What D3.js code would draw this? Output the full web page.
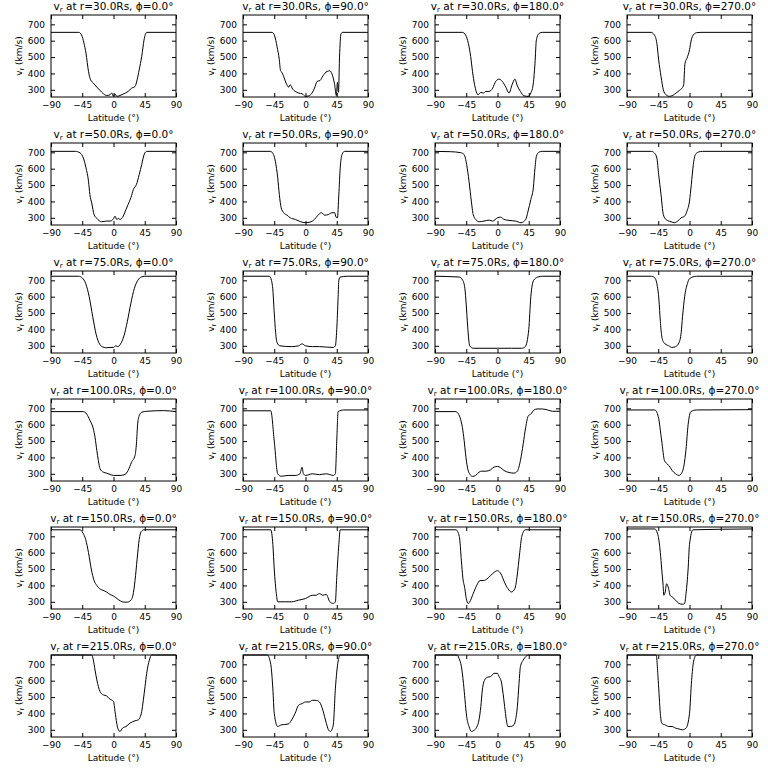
<!DOCTYPE html>
<html><head><meta charset="utf-8">
<script src="https://cdn.jsdelivr.net/npm/d3@7/dist/d3.min.js"></script>
<style>body{margin:0;background:#fff}svg{display:block}text{font-family:"DejaVu Sans",sans-serif;fill:#000}</style>
</head><body>
<script>
const radii = [30, 50, 75, 100, 150, 215];
const phis = [0, 90, 180, 270];
const xTicks = [-90, -45, 0, 45, 90];
const yTicks = [300, 400, 500, 600, 700];
const yDomain = [256, 757];

// r = 30 Rs
const r30_p0 = [[-90,651],[-50,651],[-46,635],[-42.5,584],[-39.6,523],[-36,412],[-33,361],[-29,341],[-24,316],[-19.4,296],[-14.6,276],[-10,265],[-5,270],[-2.6,280],[0,260],[2.2,274],[4.6,260],[9.4,265],[14,274],[21,290],[26,310],[31,320],[34,361],[37,422],[40.6,503],[44,605],[47.8,651],[90,651]];
const r30_p90 = [[-90,651],[-48,651],[-44.4,629],[-41,564],[-37.7,483],[-36,418],[-34,406],[-31.4,381],[-28,341],[-24,316],[-22,331],[-18.5,304],[-14.6,290],[-10,280],[-5,276],[0,260],[4.6,263],[9.4,280],[13,310],[16.6,351],[21,357],[25,385],[31,412],[35,416],[38,398],[42,331],[44.4,265],[46,345],[47.5,285],[49,500],[51,640],[53,651],[90,651]];
const r30_p180 = [[-90,651],[-50.6,651],[-46,635],[-42,584],[-38.6,503],[-36,412],[-33,331],[-28,270],[-24,284],[-20,280],[-17,290],[-12,290],[-7,310],[-2.6,351],[2.2,365],[7,351],[12,316],[16.6,280],[21,331],[25,365],[28.6,324],[33,290],[38,263],[44,260],[48,280],[51.6,341],[54,462],[56,605],[60,645],[64.6,651],[90,651]];
const r30_p270 = [[-90,651],[-55.4,651],[-50.6,635],[-47,584],[-44.4,483],[-41,381],[-37.7,300],[-34,270],[-29,260],[-24,266],[-19.4,280],[-14.6,296],[-10.8,310],[-8.4,331],[-6.5,462],[-3.6,493],[0,544],[2.6,605],[5.5,635],[10,649],[16.6,651],[90,651]];
// r = 50 Rs
const r50_p0 = [[-90,706],[-55,706],[-48,696],[-43.4,665],[-39.6,605],[-36,523],[-34,442],[-31.4,391],[-28,320],[-24,296],[-17,276],[-10,280],[-5,280],[0,294],[2.2,310],[4.6,290],[7,296],[9.4,290],[14,310],[18,351],[21,381],[25,422],[28.6,473],[33,503],[37,564],[40.6,625],[44.4,690],[48,706],[90,706]];
const r50_p90 = [[-90,706],[-50.6,706],[-46,686],[-43.4,645],[-40,544],[-37.7,442],[-35,361],[-31.4,331],[-26.6,316],[-22,300],[-14.6,290],[-7,276],[0,270],[7,274],[13,290],[18,316],[22.8,331],[27.6,316],[33,320],[38,331],[42,331],[44,304],[46,300],[48,442],[50,605],[52.6,686],[56,706],[90,706]];
const r50_p180 = [[-90,706],[-68,704],[-53,698],[-48,686],[-44.4,625],[-41,523],[-37.7,402],[-35,320],[-31.4,290],[-26.6,276],[-19.4,280],[-12,286],[-7,280],[0,300],[4.6,304],[9.4,290],[16.6,284],[26,280],[34,270],[40.6,290],[44,341],[48,412],[51.6,483],[54,605],[56,676],[60,702],[64.6,706],[90,706]];
const r50_p270 = [[-90,706],[-55,706],[-50.6,696],[-47,665],[-44.4,564],[-41,442],[-37.7,320],[-34,290],[-26.6,276],[-22,270],[-17,280],[-12,300],[-7,310],[-3.6,341],[0,402],[2.6,503],[5.5,625],[8.4,686],[13,702],[19,706],[90,706]];
// r = 75 Rs
const r75_p0 = [[-90,725],[-50,725],[-45,715],[-40,680],[-35,600],[-30,480],[-25,370],[-20,310],[-15,292],[-10,288],[-5,290],[0,290],[3,300],[6,295],[10,310],[15,360],[20,450],[25,560],[30,650],[35,700],[40,720],[45,725],[90,725]];
const r75_p90 = [[-90,725],[-52,725],[-49,700],[-47,640],[-45,500],[-43,380],[-41,320],[-37,300],[-20,295],[-10,300],[-5,312],[0,300],[10,295],[20,295],[30,292],[40,290],[43,300],[45,400],[47,600],[48,700],[50,720],[60,725],[90,725]];
const r75_p180 = [[-90,725],[-55,720],[-50,700],[-47,650],[-45,550],[-43,420],[-40,300],[-35,285],[0,285],[20,285],[35,285],[40,295],[45,400],[48,600],[52,700],[58,720],[65,725],[90,725]];
const r75_p270 = [[-90,725],[-55,725],[-50,715],[-47,680],[-44,580],[-42,450],[-40,360],[-37,320],[-30,300],[-25,290],[-20,295],[-15,320],[-12,380],[-10,480],[-7,600],[-3,680],[0,710],[10,725],[90,725]];
// r = 100 Rs
const r100_p0 = [[-90,680],[-43.4,680],[-38.6,665],[-33.8,625],[-29,574],[-26.6,523],[-24,442],[-21.8,381],[-19.4,331],[-14.6,310],[-10,304],[-5,296],[0,290],[9.4,290],[16.6,296],[21,320],[26,371],[31,412],[33,483],[34.8,605],[37,655],[40.6,676],[48,682],[72,686],[90,680]];
const r100_p90 = [[-90,685],[-50,685],[-45,500],[-40,300],[-35,285],[-25,290],[-15,290],[-8,300],[-5,340],[-3,300],[0,290],[10,300],[20,295],[30,300],[40,290],[43,300],[45,500],[47,680],[55,690],[90,690]];
const r100_p180 = [[-90,680],[-60,680],[-57,670],[-54,645],[-50.6,584],[-48,503],[-46,422],[-43.4,341],[-39.6,296],[-36,284],[-31.4,290],[-26.6,310],[-22.8,316],[-17,316],[-10,324],[-5,341],[0,345],[4.6,337],[9.4,320],[16.6,308],[23.8,304],[28.6,316],[33,381],[37,483],[40.6,584],[44.4,655],[48,665],[52.6,690],[57,696],[64.6,696],[72,690],[79,682],[90,682]];
const r100_p270 = [[-90,690],[-50,690],[-45,650],[-40,500],[-36,380],[-32,360],[-28,340],[-25,320],[-20,300],[-15,290],[-12,300],[-8,350],[-5,450],[-2,600],[2,680],[10,690],[90,692]];
// r = 150 Rs
const r150_p0 = [[-90,740],[-48,740],[-44,720],[-40,680],[-36,600],[-32,500],[-28,430],[-24,400],[-20,380],[-15,370],[-10,360],[-5,345],[0,335],[5,320],[10,305],[15,298],[20,298],[25,310],[28,340],[31,430],[34,560],[37,680],[40,730],[44,740],[90,740]];
const r150_p90 = [[-90,740],[-50,740],[-47,650],[-45,500],[-42,350],[-40,300],[-30,300],[-20,300],[-10,310],[0,320],[10,340],[15,340],[20,350],[25,340],[30,345],[35,300],[40,290],[43,300],[45,450],[48,650],[50,740],[90,740]];
const r150_p180 = [[-90,740],[-60,740],[-55,700],[-52,550],[-50,450],[-47,380],[-45,320],[-42,290],[-40,300],[-35,350],[-30,400],[-25,430],[-20,430],[-15,440],[-10,460],[-5,480],[0,490],[5,470],[10,420],[15,380],[20,360],[25,380],[28,450],[32,600],[35,700],[40,740],[90,740]];
const r150_p270 = [[-90,745],[-50,745],[-45,700],[-42,600],[-40,500],[-38,400],[-37,340],[-35,360],[-33,410],[-30,380],[-28,340],[-25,330],[-20,310],[-15,290],[-10,285],[-7,290],[-5,350],[-2,500],[0,650],[5,740],[90,745]];
// r = 215 Rs
const r215_p0 = [[-90,757],[-31.4,757],[-29,726],[-26.6,665],[-24,605],[-21.8,564],[-19.4,534],[-14.6,513],[-10,507],[-5,487],[0,473],[2.2,412],[4.6,341],[7,300],[9.4,290],[13,310],[18,320],[23.8,341],[31,355],[35.8,361],[40.6,412],[43,483],[45.4,564],[47.8,645],[51.6,726],[55,757],[90,757]];
const r215_p90 = [[-90,757],[-55,757],[-50,700],[-47,550],[-45,400],[-40,320],[-35,330],[-25,335],[-20,360],[-15,400],[-10,450],[-5,460],[0,470],[5,470],[10,480],[15,480],[20,470],[25,420],[30,340],[33,300],[36,290],[40,330],[43,550],[47,720],[50,757],[90,757]];
const r215_p180 = [[-90,757],[-58,757],[-55.4,737],[-52,686],[-49,584],[-46.8,483],[-44.4,381],[-41,320],[-37.7,290],[-34,296],[-30,316],[-26.6,361],[-24,442],[-21.8,544],[-18.5,605],[-14.6,621],[-10,625],[-5,645],[0,645],[2.2,625],[5.5,594],[8,523],[10.3,442],[12.7,361],[15,320],[18.5,320],[23.8,331],[26,361],[28.6,442],[31,584],[33,686],[37,726],[40.6,747],[45.4,757],[90,757]];
const r215_p270 = [[-90,757],[-48,757],[-45,600],[-42,400],[-40,340],[-35,330],[-30,320],[-25,320],[-20,310],[-15,305],[-10,300],[-5,310],[0,400],[3,600],[6,720],[10,757],[90,757]];

const profiles = [
  [r30_p0, r30_p90, r30_p180, r30_p270],
  [r50_p0, r50_p90, r50_p180, r50_p270],
  [r75_p0, r75_p90, r75_p180, r75_p270],
  [r100_p0, r100_p90, r100_p180, r100_p270],
  [r150_p0, r150_p90, r150_p180, r150_p270],
  [r215_p0, r215_p90, r215_p180, r215_p270]
];

const W = 768, H = 768, cellW = 192, cellH = 128;
const pL = 51, pR = 176, pT = 15, pB = 97;
const svg = d3.select("body").append("svg").attr("width", W).attr("height", H);
const x = d3.scaleLinear().domain([-90, 90]).range([pL, pR]);
const y = d3.scaleLinear().domain(yDomain).range([pB, pT]);
svg.append("defs").append("clipPath").attr("id", "clip")
  .append("rect").attr("x", pL).attr("y", pT - 1).attr("width", pR - pL).attr("height", pB - pT + 2);

const line = d3.line().x(d => x(d[0])).y(d => y(d[1])).curve(d3.curveMonotoneX);

radii.forEach((r, ri) => {
  phis.forEach((p, ci) => {
    const g = svg.append("g").attr("transform", `translate(${ci * cellW},${ri * cellH})`);
    const xa = g.append("g").attr("transform", `translate(0,${pB})`)
      .call(d3.axisBottom(x).tickValues(xTicks).tickSize(-4).tickPadding(5).tickFormat(d3.format("d")));
    const xb = g.append("g").attr("transform", `translate(0,${pT})`)
      .call(d3.axisTop(x).tickValues(xTicks).tickSize(-4).tickFormat(""));
    const ya = g.append("g").attr("transform", `translate(${pL},0)`)
      .call(d3.axisLeft(y).tickValues(yTicks).tickSize(-4).tickPadding(6).tickFormat(d3.format("d")));
    const yb = g.append("g").attr("transform", `translate(${pR},0)`)
      .call(d3.axisRight(y).tickValues(yTicks).tickSize(-4).tickFormat(""));
    [xa, xb, ya, yb].forEach(a => {
      a.select(".domain").remove();
      a.selectAll("line").attr("stroke", "#000");
      a.selectAll("text").attr("font-size", 9).attr("font-family", "DejaVu Sans");
    });
    g.append("rect").attr("x", pL).attr("y", pT).attr("width", pR - pL).attr("height", pB - pT)
      .attr("fill", "none").attr("stroke", "#000").attr("stroke-width", 1);
    g.append("path").datum(profiles[ri][ci]).attr("clip-path", "url(#clip)")
      .attr("d", line).attr("fill", "none").attr("stroke", "#000").attr("stroke-width", 1);
    const t = g.append("text").attr("x", (pL + pR) / 2).attr("y", 10).attr("text-anchor", "middle").attr("font-size", 10.5);
    t.append("tspan").text("v");
    t.append("tspan").attr("font-size", 7).attr("dy", 2).text("r");
    t.append("tspan").attr("dy", -2).text(` at r=${r.toFixed(1)}Rs, \u03d5=${p.toFixed(1)}\u00b0`);
    g.append("text").attr("x", (pL + pR) / 2).attr("y", 121).attr("text-anchor", "middle").attr("font-size", 9).text("Latitude (\u00b0)");
    const yl = g.append("text").attr("transform", `translate(22,${(pT + pB) / 2}) rotate(-90)`).attr("text-anchor", "middle").attr("font-size", 9);
    yl.append("tspan").text("v");
    yl.append("tspan").attr("font-size", 6.5).attr("dy", 2).text("r");
    yl.append("tspan").attr("dy", -2).text(" (km/s)");
  });
});
</script>
</body></html>
